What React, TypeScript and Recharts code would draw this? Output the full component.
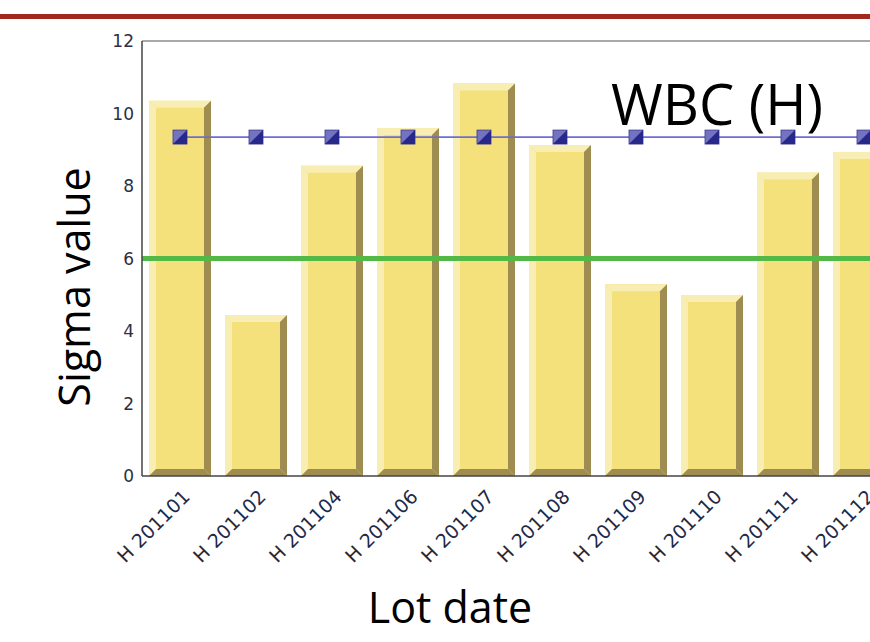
import React from 'react';
import { ComposedChart, Bar, Line, XAxis, YAxis, ReferenceLine } from 'recharts';

const lotDates = ['H 201101', 'H 201102', 'H 201104', 'H 201106', 'H 201107', 'H 201108', 'H 201109', 'H 201110', 'H 201111', 'H 201112'];
const sigmaValues = [10.35, 4.44, 8.56, 9.6, 10.83, 9.13, 5.29, 4.99, 8.37, 8.94];
const targetValues = [9.35, 9.35, 9.35, 9.35, 9.35, 9.35, 9.35, 9.35, 9.35, 9.35];
const minimumSigma = 6;
const yTicks = [0, 2, 4, 6, 8, 10, 12];

const data = lotDates.map((lot, i) => ({ lot, sigma: sigmaValues[i], target: targetValues[i] }));

const BevelBar = (props: any) => {
  const { x, y, width, height } = props;
  if (!height || height <= 0) return null;
  const d = 7;
  const x2 = x + width;
  const y2 = y + height;
  return (
    <g>
      <rect x={x} y={y} width={width} height={height} fill="#f4e17c" />
      <polygon points={`${x},${y} ${x + d},${y + d} ${x + d},${y2 - d} ${x},${y2}`} fill="#f8edb2" />
      <polygon points={`${x},${y} ${x2},${y} ${x2 - d},${y + d} ${x + d},${y + d}`} fill="#f8edb2" />
      <polygon points={`${x2},${y} ${x2},${y2} ${x2 - d},${y2 - d} ${x2 - d},${y + d}`} fill="#9e8c50" />
      <polygon points={`${x},${y2} ${x2},${y2} ${x2 - d},${y2 - d} ${x + d},${y2 - d}`} fill="#9e8c50" />
    </g>
  );
};

const SquareDot = (props: any) => {
  const { cx, cy } = props;
  if (cx == null || cy == null) return null;
  const s = 7;
  return (
    <g>
      <rect x={cx - s} y={cy - s} width={2 * s} height={2 * s} fill="#7373c2" stroke="#3a3a90" strokeWidth={0.8} />
      <polygon points={`${cx + s},${cy - s} ${cx + s},${cy + s} ${cx - s},${cy + s}`} fill="#28288a" />
    </g>
  );
};

const XTick = (props: any) => {
  const { x, y, payload } = props;
  return (
    <text
      transform={`translate(${x + 11},${y + 14}) rotate(-45)`}
      textAnchor="end"
      fontFamily="'DejaVu Sans', Verdana, sans-serif"
      fontSize={19}
      fill="#1e2a48"
    >
      {payload.value}
    </text>
  );
};

export default function App() {
  return (
    <div style={{ position: 'fixed', left: 0, top: 0, width: 870, height: 642, overflow: 'hidden', background: '#ffffff' }}>
      <div style={{ position: 'absolute', left: 0, top: 14, width: 870, height: 5, background: '#a2291e' }} />
      <div style={{ position: 'absolute', left: 0, top: 0 }}>
        <ComposedChart width={920} height={642} data={data} margin={{ top: 41, right: 18, bottom: 0, left: 0 }}>
          <XAxis
            dataKey="lot"
            height={166}
            interval={0}
            tickLine={false}
            axisLine={{ stroke: '#444444', strokeWidth: 1.5 }}
            tick={<XTick />}
          />
          <YAxis
            width={142}
            domain={[0, 12]}
            ticks={yTicks}
            tickLine={false}
            axisLine={{ stroke: '#444444', strokeWidth: 1.5 }}
            tick={{ fontFamily: "'DejaVu Sans', Verdana, sans-serif", fontSize: 17, fill: '#2e2e44' }}
          />
          <ReferenceLine y={12} stroke="#555555" strokeWidth={1.2} />
          <Bar dataKey="sigma" barSize={62} shape={<BevelBar />} isAnimationActive={false} />
          <ReferenceLine y={minimumSigma} stroke="#52b947" strokeWidth={5} />
          <Line
            dataKey="target"
            stroke="#6e6ed0"
            strokeWidth={1.8}
            dot={<SquareDot />}
            activeDot={false}
            isAnimationActive={false}
          />
          <text x={611} y={125} fontFamily="'Open Sans', sans-serif" fontSize={56} fill="#000000">WBC (H)</text>
          <text
            transform="translate(90,287) rotate(-90)"
            textAnchor="middle"
            fontFamily="'Open Sans', sans-serif"
            fontSize={43}
            fill="#000000"
          >
            Sigma value
          </text>
          <text x={450} y={623} textAnchor="middle" fontFamily="'Open Sans', sans-serif" fontSize={43} fill="#000000">Lot date</text>
        </ComposedChart>
      </div>
    </div>
  );
}
